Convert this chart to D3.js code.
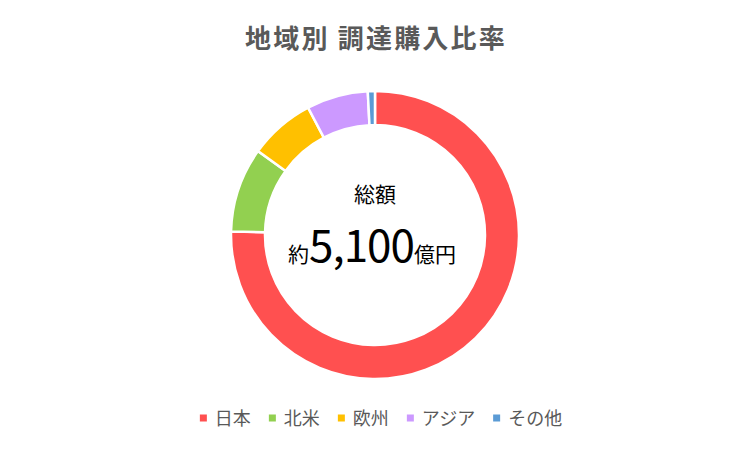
<!DOCTYPE html>
<html>
<head>
<meta charset="utf-8">
<script src="https://cdn.jsdelivr.net/npm/d3@7"></script>
<style>
  body { margin: 0; background: #fff; }
  svg { display: block; font-family: "Noto Sans CJK JP", "Noto Sans", sans-serif; }
</style>
</head>
<body>
<svg id="chart"></svg>
<script>
// data
const regions = ['日本', '北米', '欧州', 'アジア', 'その他'];
const shares = [75.4, 9.5, 7.4, 6.9, 0.8];
const colors = ['#FF5050', '#92D050', '#FFC000', '#CC99FF', '#5B9BD5'];

const width = 750, height = 450;
const cx = 375, cy = 235;
const outerR = 144, innerR = 110;

const svg = d3.select('#chart')
    .attr('width', width)
    .attr('height', height);

// title
svg.append('text')
    .attr('x', width / 2 + 1)
    .attr('y', 48)
    .attr('text-anchor', 'middle')
    .style('font-size', '26px')
    .style('letter-spacing', '2.2px')
    .style('font-weight', 'bold')
    .style('fill', '#595959')
    .text('地域別 調達購入比率');

// donut
const data = regions.map((r, i) => ({region: r, value: shares[i], color: colors[i]}));
const pie = d3.pie().sort(null).value(d => d.value);
const arc = d3.arc().innerRadius(innerR).outerRadius(outerR);

const g = svg.append('g')
    .attr('transform', 'translate(' + cx + ',' + cy + ')');

g.selectAll('path')
    .data(pie(data))
    .enter()
    .append('path')
    .attr('d', arc)
    .attr('fill', d => d.data.color)
    .attr('stroke', '#fff')
    .attr('stroke-width', 2.5);

// centre label
g.append('text')
    .attr('x', 0)
    .attr('y', -33)
    .attr('text-anchor', 'middle')
    .style('font-size', '21px')
    .style('fill', '#000')
    .text('総額');

const total = g.append('text')
    .attr('x', -3)
    .attr('y', 27)
    .attr('text-anchor', 'middle')
    .style('fill', '#000');
total.append('tspan').style('font-size', '21px').text('約');
total.append('tspan').style('font-size', '44px').style('letter-spacing', '-1px').text('5,100');
total.append('tspan').style('font-size', '21px').text('億円');

// legend
const legend = svg.append('g');
const items = legend.selectAll('g')
    .data(data)
    .enter()
    .append('g');
items.append('rect')
    .attr('y', -3.5)
    .attr('width', 7)
    .attr('height', 7)
    .attr('fill', d => d.color);
items.append('text')
    .attr('x', 15)
    .attr('y', 6.5)
    .style('font-size', '18px')
    .style('fill', '#595959')
    .text(d => d.region);

let offset = 0;
const gap = 18;
const widths = [];
items.each(function() {
    widths.push(15 + this.querySelector('text').getComputedTextLength());
});
const totalW = d3.sum(widths) + gap * (widths.length - 1);
const start = (width - totalW) / 2 + 6;
items.attr('transform', (d, i) => {
    const x = start + offset;
    offset += widths[i] + gap;
    return 'translate(' + x + ',418)';
});
</script>
</body>
</html>
